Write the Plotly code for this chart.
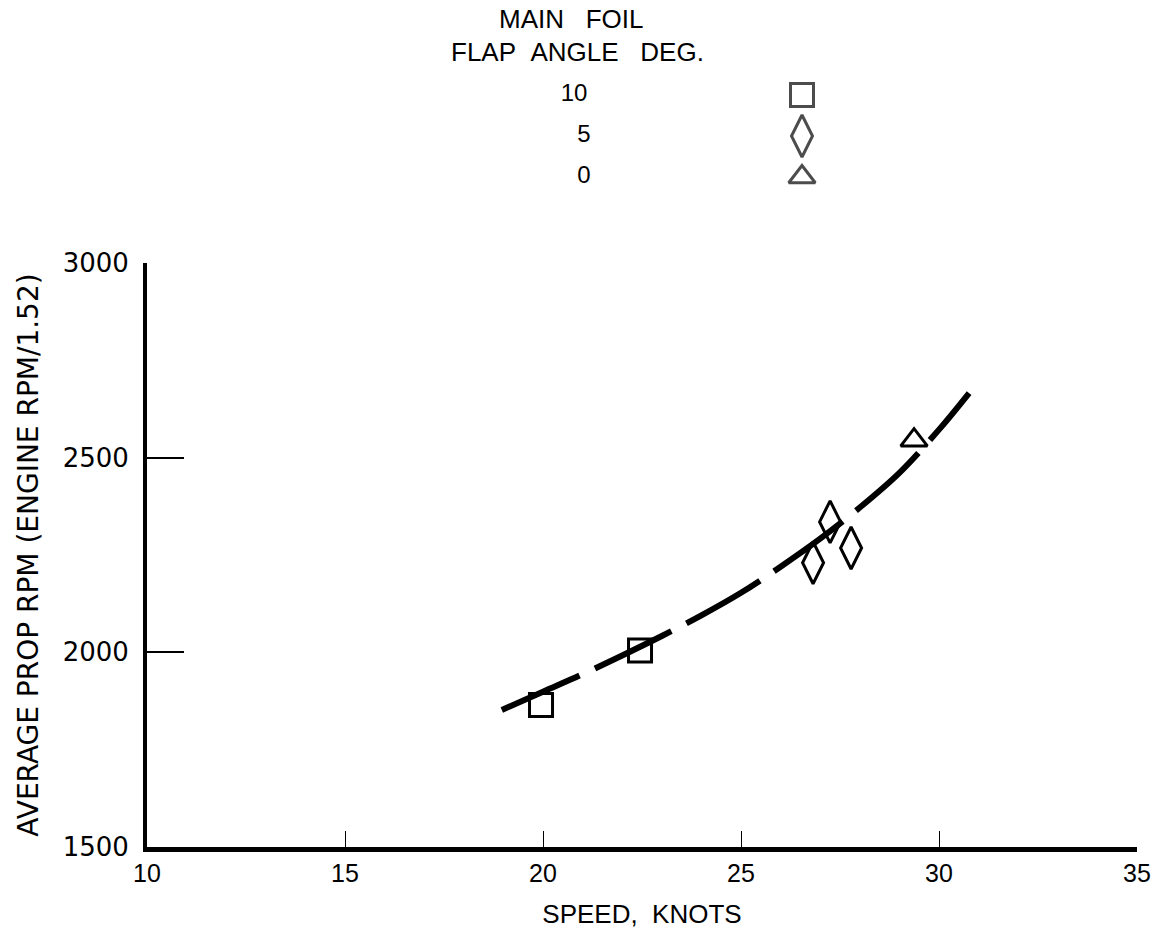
import plotly.graph_objects as go

# ---- data ----
flap10_speed = [19.95, 22.45]
flap10_rpm = [1865, 2005]
flap5_speed = [26.82, 27.25, 27.78]
flap5_rpm = [2230, 2335, 2268]
flap0_speed = [29.37]
flap0_rpm = [2545]

fair_speed = [18.96, 20, 21, 22, 23, 24, 25, 26, 27, 28, 29, 30, 30.76]
fair_rpm = [1852, 1899, 1944, 1992, 2042, 2095, 2153, 2220, 2292, 2372, 2461, 2572, 2666]

legend_labels = ["10", "5", "0"]
legend_symbols = ["square-open", "diamond-tall-open", "triangle-up-open"]
legend_rows = [0, 1, 2]

x_ticks = [10, 15, 20, 25, 30, 35]
y_ticks = [1500, 2000, 2500, 3000]

# ---- layout constants ----
W, H = 1157, 936
ML, MR, MT, MB = 147, 20, 0, 89
PW = W - ML - MR
PH = H - MT - MB               # plot-area height (847)
AX_TOP = 263                   # pixel of y=3000
ydom_top = (PH - AX_TOP) / PH

LEG_DOM0 = 0.70
leg_bottom_px = PH * (1 - LEG_DOM0)
row_px0, row_step = 95, 41
a = (leg_bottom_px - row_px0) / row_step
b = a - leg_bottom_px / row_step

fig = go.Figure()

fig.add_trace(go.Scatter(
    x=fair_speed, y=fair_rpm, mode="lines",
    line=dict(color="black", width=6, dash="85px,17px", shape="spline"),
    showlegend=False, hoverinfo="skip"))

mk = dict(color="black", line=dict(color="black", width=3))
fig.add_trace(go.Scatter(x=flap10_speed, y=flap10_rpm, mode="markers",
                         marker=dict(symbol="square-open", size=23, **mk),
                         showlegend=False))
fig.add_trace(go.Scatter(x=flap5_speed, y=flap5_rpm, mode="markers",
                         marker=dict(symbol="diamond-tall-open", size=30, **mk),
                         showlegend=False))
fig.add_trace(go.Scatter(x=flap0_speed, y=flap0_rpm, mode="markers",
                         marker=dict(symbol="triangle-up-open", size=23, **mk),
                         showlegend=False))

# legend block (own axes above the plot)
leg_sizes = [23, 30, 23]
fig.add_trace(go.Scatter(
    x=[(802 - ML) / PW] * len(legend_rows), y=legend_rows, mode="markers",
    marker=dict(symbol=legend_symbols, size=leg_sizes, **mk),
    xaxis="x2", yaxis="y2", showlegend=False, hoverinfo="skip"))
fig.add_trace(go.Scatter(
    x=[(574 - ML) / PW, (584 - ML) / PW, (584 - ML) / PW], y=legend_rows, mode="text",
    text=legend_labels, textposition="middle center",
    textfont=dict(family="Liberation Sans, Arial", size=24, color="black"),
    xaxis="x2", yaxis="y2", showlegend=False, hoverinfo="skip"))

fig.add_annotation(text="MAIN&nbsp;&nbsp;&nbsp;FOIL", xref="paper", yref="paper",
                   x=(571 - ML) / PW, y=1 - 19 / PH, showarrow=False,
                   xanchor="center", yanchor="middle", borderpad=0,
                   font=dict(family="Liberation Sans, Arial", size=26, color="black"))
fig.add_annotation(text="FLAP&nbsp;&nbsp;ANGLE&nbsp;&nbsp;&nbsp;DEG.", xref="paper", yref="paper",
                   x=(577 - ML) / PW, y=1 - 52 / PH, showarrow=False,
                   xanchor="center", yanchor="middle", borderpad=0,
                   font=dict(family="Liberation Sans, Arial", size=26, color="black"))

fig.update_layout(
    width=W, height=H,
    margin=dict(l=ML, r=MR, t=MT, b=MB, autoexpand=False),
    paper_bgcolor="white", plot_bgcolor="white",
    xaxis=dict(
        range=[10, 35], domain=[0, 1], anchor="y",
        showgrid=False, zeroline=False,
        showline=True, linecolor="black", linewidth=5,
        tickmode="array", tickvals=x_ticks, ticktext=[str(v) for v in x_ticks],
        ticks="inside", ticklen=16, tickwidth=1, tickcolor="black",
        tickfont=dict(family="Liberation Sans Narrow, Liberation Sans, Arial", size=25, color="black"),
        title=dict(text="SPEED,&nbsp;&nbsp;KNOTS", standoff=20,
                   font=dict(family="Liberation Sans, Arial", size=26, color="black")),
    ),
    yaxis=dict(
        range=[1500, 3000], domain=[0, ydom_top], anchor="x",
        showgrid=False, zeroline=False,
        showline=True, linecolor="black", linewidth=4,
        tickmode="array", tickvals=y_ticks, ticktext=[str(v) for v in y_ticks],
        ticks="inside", ticklen=37, tickwidth=2, tickcolor="black",
        ticklabelstandoff=9,
        tickfont=dict(family="DejaVu Sans, Verdana", size=26, color="black"),
        title=dict(text="AVERAGE PROP RPM (ENGINE RPM/1.52)", standoff=17,
                   font=dict(family="DejaVu Sans, Verdana", size=28, color="black")),
    ),
    xaxis2=dict(range=[0, 1], domain=[0, 1], anchor="y2", visible=False),
    yaxis2=dict(range=[a, b], domain=[LEG_DOM0, 1], anchor="x2", visible=False),
    showlegend=False,
)

fig.write_html("out.html")
